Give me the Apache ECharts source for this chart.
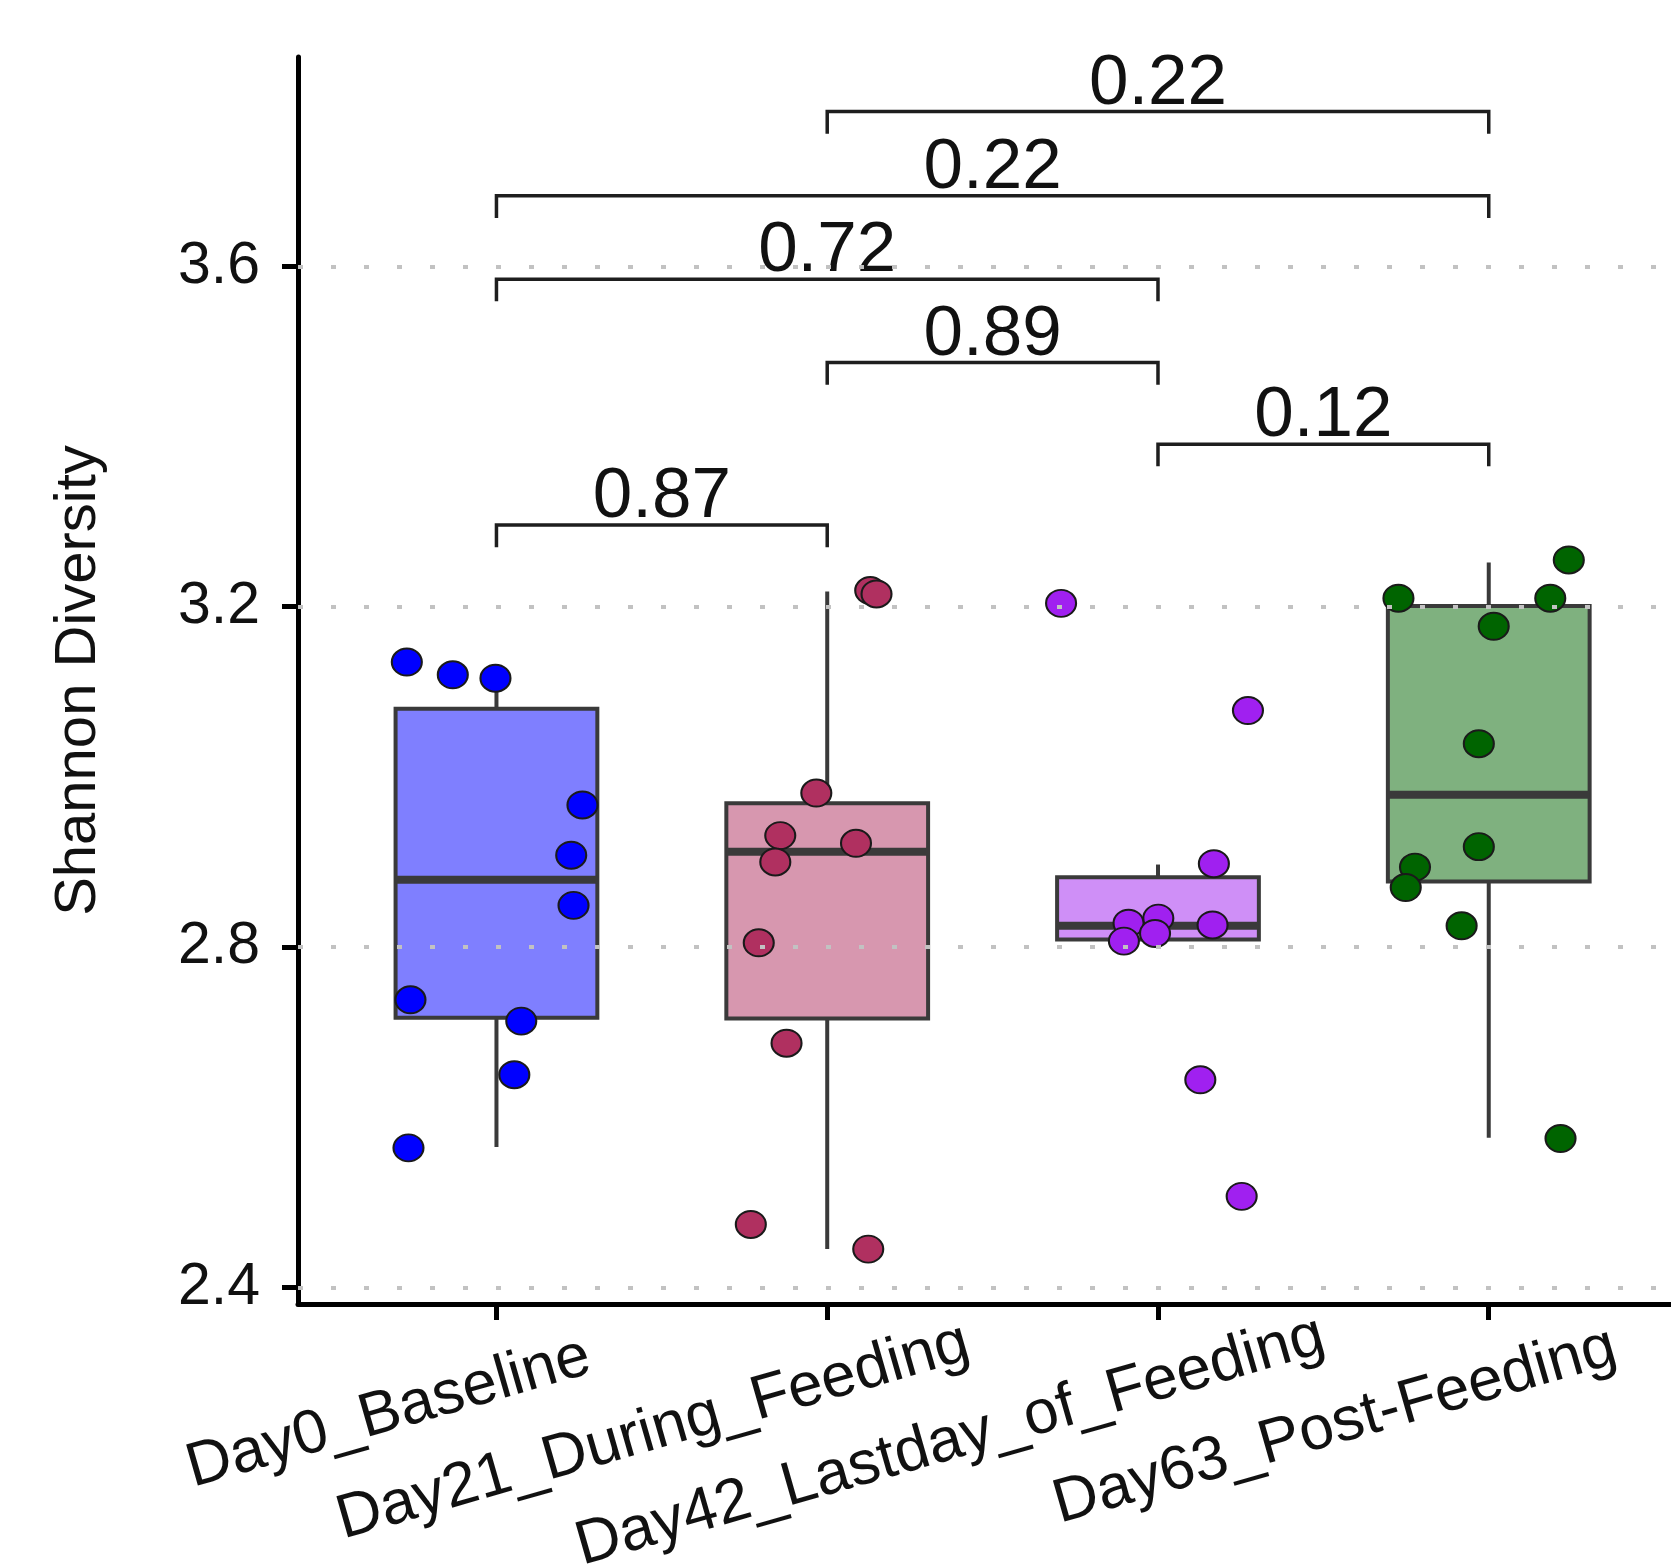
<!DOCTYPE html>
<html>
<head>
<meta charset="utf-8">
<script src="https://cdn.jsdelivr.net/npm/echarts@6/dist/echarts.min.js"></script>
<style>
  html, body { margin: 0; padding: 0; background: #fff; }
  #chart { width: 1671px; height: 1567px; }
</style>
</head>
<body>
<div id="chart"></div>
<script>
const groups = ['Day0_Baseline', 'Day21_During_Feeding', 'Day42_Lastday_of_Feeding', 'Day63_Post-Feeding'];

// box stats per group: [lower whisker, Q1, median, Q3, upper whisker]
const boxBaseline = [2.565, 2.717, 2.879, 3.080, 3.100];
const boxDuring   = [2.445, 2.716, 2.912, 2.969, 3.218];
const boxLastday  = [2.806, 2.809, 2.825, 2.882, 2.897];
const boxPost     = [2.576, 2.877, 2.979, 3.201, 3.252];

// jittered samples: x on the group scale (1..4), y = Shannon diversity
const baselineX = [0.729, 0.868, 0.997, 1.260, 1.226, 1.233, 0.740, 1.075, 1.054, 0.734];
const baselineY = [3.135, 3.120, 3.116, 2.967, 2.908, 2.849, 2.738, 2.713, 2.650, 2.564];
const duringX   = [2.130, 2.149, 1.967, 1.858, 2.087, 1.843, 1.793, 1.877, 1.769, 2.124];
const duringY   = [3.219, 3.215, 2.981, 2.931, 2.922, 2.900, 2.805, 2.687, 2.474, 2.445];
const lastdayX  = [2.707, 3.272, 3.169, 2.911, 3.001, 2.991, 3.165, 2.897, 3.128, 3.253];
const lastdayY  = [3.204, 3.078, 2.898, 2.828, 2.834, 2.816, 2.826, 2.807, 2.644, 2.507];
const postX     = [4.242, 3.727, 4.186, 4.015, 3.970, 3.970, 3.777, 3.749, 3.918, 4.217];
const postY     = [3.255, 3.210, 3.210, 3.177, 3.039, 2.918, 2.894, 2.870, 2.825, 2.575];

// pairwise comparisons
const pairFrom = [2, 1, 1, 2, 3, 1];
const pairTo   = [4, 4, 3, 3, 4, 2];
const pairY    = [3.782, 3.683, 3.585, 3.487, 3.391, 3.296];
const pValues  = ['0.22', '0.22', '0.72', '0.89', '0.12', '0.87'];

const yTicks = [2.4, 2.8, 3.2, 3.6];
const xTicks = [1, 2, 3, 4];

const colors = ['#0000ff', '#b03060', '#a020f0', '#006400'];
const font = '"Liberation Sans", Arial, Helvetica, sans-serif';
const boxHalf = 0.305;
const tip = 0.026;

const boxes = [boxBaseline, boxDuring, boxLastday, boxPost].map((b, i) => [i + 1].concat(b));
const pointSets = [[baselineX, baselineY], [duringX, duringY], [lastdayX, lastdayY], [postX, postY]];

// rotated tick labels anchored ~79% along the text (like ggplot hjust)
const labelSize = 62;
const ctx = document.createElement('canvas').getContext('2d');
ctx.font = labelSize + 'px ' + font;
const rich = {};
groups.forEach((g, i) => {
  const w = ctx.measureText(g).width;
  rich['g' + i] = { fontSize: labelSize, fontFamily: font, color: '#111', padding: [0, w * 0.58, 0, 0] };
});

const chart = echarts.init(document.getElementById('chart'));

const series = [];

// dotted horizontal grid lines
series.push({
  type: 'line',
  data: [],
  z: 1,
  silent: true,
  markLine: {
    silent: true,
    symbol: 'none',
    label: { show: false },
    lineStyle: { color: '#c2c2c2', width: 4, type: [5, 28] },
    data: yTicks.map(v => ({ yAxis: v }))
  }
});

series.push({
  type: 'custom',
  z: 2,
  silent: true,
  data: boxes,
  encode: { x: 0, y: [1, 2, 3, 4, 5] },
  renderItem: function (params, api) {
    const x = api.value(0);
    const c = colors[params.dataIndex];
    const lo = api.coord([x, api.value(1)]);
    const q1 = api.coord([x, api.value(2)]);
    const q3 = api.coord([x, api.value(4)]);
    const hi = api.coord([x, api.value(5)]);
    const bl = api.coord([x - boxHalf, api.value(2)]);
    const tr = api.coord([x + boxHalf, api.value(4)]);
    const ml = api.coord([x - boxHalf, api.value(3)]);
    const mr = api.coord([x + boxHalf, api.value(3)]);
    const stroke = '#3a3a3a';
    return {
      type: 'group',
      children: [
        { type: 'line', shape: { x1: lo[0], y1: lo[1], x2: q1[0], y2: q1[1] }, style: { stroke, lineWidth: 4 } },
        { type: 'line', shape: { x1: q3[0], y1: q3[1], x2: hi[0], y2: hi[1] }, style: { stroke, lineWidth: 4 } },
        { type: 'rect', shape: { x: bl[0], y: tr[1], width: tr[0] - bl[0], height: bl[1] - tr[1] },
          style: { fill: echarts.color.modifyAlpha(c, 0.5), stroke, lineWidth: 4 } },
        { type: 'line', shape: { x1: ml[0], y1: ml[1], x2: mr[0], y2: mr[1] }, style: { stroke, lineWidth: 8 } }
      ]
    };
  }
});

pointSets.forEach((p, i) => {
  series.push({
    type: 'scatter',
    z: 3,
    silent: true,
    symbolSize: [30, 27],
    itemStyle: { color: colors[i], borderColor: '#1a1a1a', borderWidth: 2, opacity: 1 },
    data: p[0].map((x, k) => [x, p[1][k]])
  });
});

series.push({
  type: 'custom',
  z: 4,
  silent: true,
  data: pairFrom.map((f, i) => [f, pairTo[i], pairY[i]]),
  encode: { x: [0, 1], y: 2 },
  renderItem: function (params, api) {
    const y = api.value(2);
    const a = api.coord([api.value(0), y]);
    const b = api.coord([api.value(1), y]);
    const a0 = api.coord([api.value(0), y - tip]);
    const b0 = api.coord([api.value(1), y - tip]);
    return {
      type: 'group',
      children: [
        { type: 'polyline', shape: { points: [a0, a, b, b0] }, style: { stroke: '#1e1e1e', lineWidth: 3.5, fill: null } },
        { type: 'text', style: { text: pValues[params.dataIndex], x: (a[0] + b[0]) / 2, y: a[1] + 8,
            align: 'center', verticalAlign: 'bottom', fontSize: 71, fontFamily: font, fill: '#111' } }
      ]
    };
  }
});

chart.setOption({
  animation: false,
  backgroundColor: '#fff',
  grid: { left: 298, right: 0, top: 57, bottom: 263, containLabel: false, outerBoundsMode: 'none' },
  xAxis: {
    type: 'value',
    min: 0.4,
    max: 4.551,
    axisLine: { show: true, onZero: false, lineStyle: { color: '#000', width: 5 } },
    axisTick: { show: true, customValues: xTicks, length: 16, lineStyle: { color: '#000', width: 5 } },
    axisLabel: {
      customValues: xTicks,
      rotate: 16,
      align: 'center',
      verticalAlign: 'top',
      margin: 46,
      rich: rich,
      formatter: function (v) { const i = Math.round(v) - 1; return '{g' + i + '|' + groups[i] + '}'; }
    },
    splitLine: { show: false }
  },
  yAxis: {
    type: 'value',
    min: 2.3805,
    max: 3.8461,
    name: 'Shannon Diversity',
    nameLocation: 'middle',
    nameGap: 190,
    nameTextStyle: { fontSize: 58, fontFamily: font, color: '#111' },
    axisLine: { show: true, onZero: false, lineStyle: { color: '#000', width: 5 } },
    axisTick: { show: true, customValues: yTicks, length: 16, lineStyle: { color: '#000', width: 5 } },
    axisLabel: {
      customValues: yTicks,
      margin: 38,
      fontSize: 59,
      fontFamily: font,
      color: '#111',
      formatter: v => v.toFixed(1)
    },
    splitLine: { show: false }
  },
  series: series
});
</script>
</body>
</html>
